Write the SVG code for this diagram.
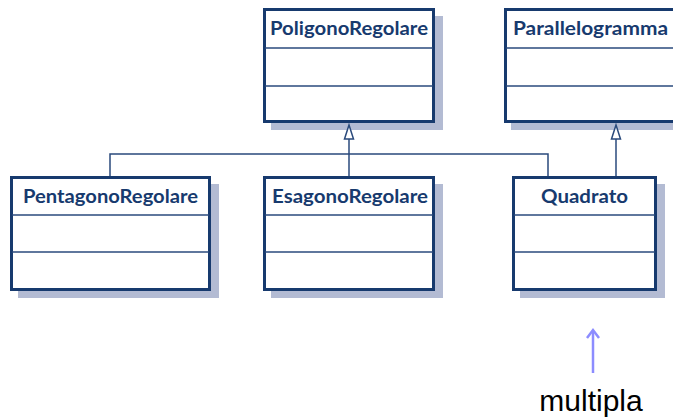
<svg xmlns="http://www.w3.org/2000/svg" width="673" height="417" viewBox="0 0 673 417">
<defs>
<style>
.shadow{fill:#b3bbd3;}
.box{fill:#ffffff;stroke:#173a6e;stroke-width:3;}
.div{stroke:#2a4a7c;stroke-width:1.5;}
.name{font-family:Lato,"Open Sans","Liberation Sans",sans-serif;font-weight:bold;font-size:18px;fill:#173a6e;text-anchor:middle;}
.conn{stroke:#2a4a7c;stroke-width:1.5;fill:none;}
.tri{stroke:#2a4a7c;stroke-width:1.5;fill:#ffffff;}
</style>
</defs>
<rect width="673" height="417" fill="#ffffff"/>

<g id="PoligonoRegolare">
<rect class="shadow" x="271" y="16" width="172" height="114"/>
<rect class="box" x="264.5" y="9.5" width="169" height="112"/>
<line class="div" x1="265" y1="48" x2="433" y2="48"/>
<line class="div" x1="265" y1="86" x2="433" y2="86"/>
<text class="name" x="349" y="35" textLength="158" lengthAdjust="spacingAndGlyphs">PoligonoRegolare</text>
</g>

<g id="Parallelogramma">
<rect class="shadow" x="511" y="16" width="180" height="114"/>
<rect class="box" x="505.5" y="9.5" width="180" height="112"/>
<line class="div" x1="506" y1="48" x2="685" y2="48"/>
<line class="div" x1="506" y1="86" x2="685" y2="86"/>
<text class="name" x="590.5" y="35" textLength="155" lengthAdjust="spacingAndGlyphs">Parallelogramma</text>
</g>

<g id="PentagonoRegolare">
<rect class="shadow" x="18" y="184" width="201" height="114"/>
<rect class="box" x="11.5" y="177.5" width="198" height="112"/>
<line class="div" x1="12" y1="215" x2="209" y2="215"/>
<line class="div" x1="12" y1="252" x2="209" y2="252"/>
<text class="name" x="110.5" y="203" textLength="175" lengthAdjust="spacingAndGlyphs">PentagonoRegolare</text>
</g>

<g id="EsagonoRegolare">
<rect class="shadow" x="271" y="184" width="172" height="114"/>
<rect class="box" x="264.5" y="177.5" width="169" height="112"/>
<line class="div" x1="265" y1="215" x2="433" y2="215"/>
<line class="div" x1="265" y1="252" x2="433" y2="252"/>
<text class="name" x="350" y="203" textLength="156" lengthAdjust="spacingAndGlyphs">EsagonoRegolare</text>
</g>

<g id="Quadrato">
<rect class="shadow" x="520" y="184" width="145" height="114"/>
<rect class="box" x="513.5" y="177.5" width="142" height="112"/>
<line class="div" x1="514" y1="215" x2="655" y2="215"/>
<line class="div" x1="514" y1="252" x2="655" y2="252"/>
<text class="name" x="584.5" y="203" textLength="87" lengthAdjust="spacingAndGlyphs">Quadrato</text>
</g>

<g id="connectors">
<polyline class="conn" points="110,176 110,154 548,154 548,176"/>
<line class="conn" x1="349" y1="176" x2="349" y2="139"/>
<polygon class="tri" points="349,125 344.5,139 353.5,139"/>
<line class="conn" x1="616" y1="176" x2="616" y2="139"/>
<polygon class="tri" points="616,125 611.5,139 620.5,139"/>
</g>

<g id="annotation">
<line x1="593" y1="373" x2="593" y2="331" stroke="#8c8cff" stroke-width="2.5"/>
<polyline points="587,338 593,330 599,338" fill="none" stroke="#8c8cff" stroke-width="2.5"/>
<text x="591" y="411" font-family="Liberation Sans, Arial, sans-serif" font-size="30" fill="#000000" text-anchor="middle">multipla</text>
</g>
</svg>
